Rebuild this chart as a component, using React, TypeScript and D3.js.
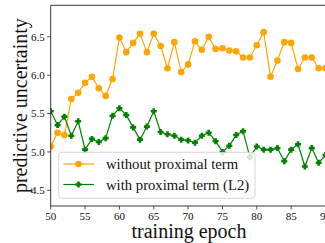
import { useEffect, useRef } from "react";
import * as d3 from "d3";

const epochs = d3.range(50, 91);
const withoutProx = [
  5.07, 5.25, 5.22, 5.69, 5.77, 5.9, 5.98, 5.83, 5.73, 5.95, 6.49, 6.3, 6.42, 6.54,
  6.3, 6.54, 6.38, 6.09, 6.43, 6.04, 6.14, 6.44, 6.33, 6.5, 6.34, 6.35, 6.32, 6.31,
  6.23, 6.23, 6.39, 6.56, 5.98, 6.19, 6.43, 6.42, 6.08, 6.23, 6.23, 6.09, 6.09,
];
const withProx = [
  5.53, 5.35, 5.46, 5.21, 5.4, 5.03, 5.17, 5.13, 5.18, 5.47, 5.57, 5.48, 5.32, 5.16,
  5.33, 5.53, 5.26, 5.23, 5.21, 5.16, 5.15, 5.12, 5.21, 5.25, 5.14, 5.0, 5.08, 5.22,
  5.27, 4.93, 5.07, 5.03, 5.03, 5.05, 4.88, 5.03, 5.1, 4.81, 5.05, 4.86, 4.96,
];
const xTicks = [50, 55, 60, 65, 70, 75, 80, 85, 90];
const yTicks = [4.5, 5.0, 5.5, 6.0, 6.5];
const seriesNames = ["without proximal term", "with proximal term (L2)"];

function App() {
  const svgRef = useRef(null);

  useEffect(() => {
    const width = 325;
    const height = 243;
    const left = 50.7;
    const right = 325.5;
    const top = 5.3;
    const bottom = 206;
    const font = "'Liberation Serif', 'Times New Roman', serif";

    const svg = d3.select(svgRef.current).attr("width", width).attr("height", height);
    svg.selectAll("*").remove();

    const x = d3.scaleLinear().domain([50, 90]).range([left, right]);
    const y = d3.scaleLinear().domain([4.296, 6.91]).range([bottom, top]);

    svg
      .append("defs")
      .append("clipPath")
      .attr("id", "plotclip")
      .append("rect")
      .attr("x", left)
      .attr("y", top)
      .attr("width", right - left)
      .attr("height", bottom - top);

    const plot = svg.append("g").attr("clip-path", "url(#plotclip)");

    const line = d3
      .line()
      .x((d, i) => x(epochs[i]))
      .y((d) => y(d));

    // filled plus marker
    const plusPath = (s, t) =>
      `M${-t},${-s}H${t}V${-t}H${s}V${t}H${t}V${s}H${-t}V${t}H${-s}V${-t}H${-t}Z`;

    // orange series
    plot
      .append("path")
      .datum(withoutProx)
      .attr("d", line)
      .attr("fill", "none")
      .attr("stroke", "orange")
      .attr("stroke-width", 1.2);
    plot
      .selectAll(".dot-o")
      .data(withoutProx)
      .enter()
      .append("circle")
      .attr("cx", (d, i) => x(epochs[i]))
      .attr("cy", (d) => y(d))
      .attr("r", 3.3)
      .attr("fill", "orange");

    // green series
    plot
      .append("path")
      .datum(withProx)
      .attr("d", line)
      .attr("fill", "none")
      .attr("stroke", "green")
      .attr("stroke-width", 1.2);
    plot
      .selectAll(".dot-g")
      .data(withProx)
      .enter()
      .append("path")
      .attr("transform", (d, i) => `translate(${x(epochs[i])},${y(d)})`)
      .attr("d", plusPath(3, 1.3))
      .attr("fill", "green");

    // spines
    svg
      .append("path")
      .attr("d", `M${right + 2},${top}H${left}V${bottom}H${right + 2}`)
      .attr("fill", "none")
      .attr("stroke", "#222")
      .attr("stroke-width", 0.9);

    // x ticks
    xTicks.forEach((t) => {
      svg
        .append("line")
        .attr("x1", x(t))
        .attr("x2", x(t))
        .attr("y1", bottom)
        .attr("y2", bottom + 3.5)
        .attr("stroke", "#222")
        .attr("stroke-width", 0.8);
      svg
        .append("text")
        .attr("x", x(t))
        .attr("y", bottom + 13.5)
        .attr("text-anchor", "middle")
        .attr("font-family", font)
        .attr("font-size", 11)
        .attr("fill", "#111")
        .text(t);
    });

    // y ticks
    yTicks.forEach((t) => {
      svg
        .append("line")
        .attr("x1", left - 3.5)
        .attr("x2", left)
        .attr("y1", y(t))
        .attr("y2", y(t))
        .attr("stroke", "#222")
        .attr("stroke-width", 0.8);
      svg
        .append("text")
        .attr("x", left - 6)
        .attr("y", y(t))
        .attr("dy", "0.35em")
        .attr("text-anchor", "end")
        .attr("font-family", font)
        .attr("font-size", 11)
        .attr("fill", "#111")
        .text(t.toFixed(1));
    });

    svg
      .append("text")
      .attr("x", 189)
      .attr("y", 238)
      .attr("text-anchor", "middle")
      .attr("font-family", font)
      .attr("font-size", 20)
      .attr("fill", "#111")
      .text("training epoch");

    svg
      .append("text")
      .attr("transform", `translate(27,${(top + bottom) / 2}) rotate(-90)`)
      .attr("text-anchor", "middle")
      .attr("font-family", font)
      .attr("font-size", 20)
      .attr("fill", "#111")
      .text("predictive uncertainty");

    // legend
    const legend = svg.append("g");
    legend
      .append("rect")
      .attr("x", 58.7)
      .attr("y", 152.3)
      .attr("width", 196.3)
      .attr("height", 46)
      .attr("rx", 3)
      .attr("fill", "white")
      .attr("fill-opacity", 0.8)
      .attr("stroke", "#ccc")
      .attr("stroke-width", 0.8);

    const rows = [
      { name: seriesNames[0], color: "orange", cy: 164 },
      { name: seriesNames[1], color: "green", cy: 184.5 },
    ];
    rows.forEach((r, i) => {
      legend
        .append("line")
        .attr("x1", 63.3)
        .attr("x2", 94)
        .attr("y1", r.cy)
        .attr("y2", r.cy)
        .attr("stroke", r.color)
        .attr("stroke-width", 1.2);
      if (i === 0) {
        legend.append("circle").attr("cx", 78.5).attr("cy", r.cy).attr("r", 3.2).attr("fill", r.color);
      } else {
        legend
          .append("path")
          .attr("transform", `translate(78.5,${r.cy})`)
          .attr("d", plusPath(3, 1.3))
          .attr("fill", r.color);
      }
      legend
        .append("text")
        .attr("x", 106)
        .attr("y", r.cy)
        .attr("dy", "0.35em")
        .attr("font-family", font)
        .attr("font-size", 14.7)
        .attr("fill", "#111")
        .text(r.name);
    });
  }, []);

  return (
    <div style={{ position: "absolute", left: 0, top: 0 }}>
      <svg ref={svgRef} style={{ display: "block" }}></svg>
    </div>
  );
}

export default App;
